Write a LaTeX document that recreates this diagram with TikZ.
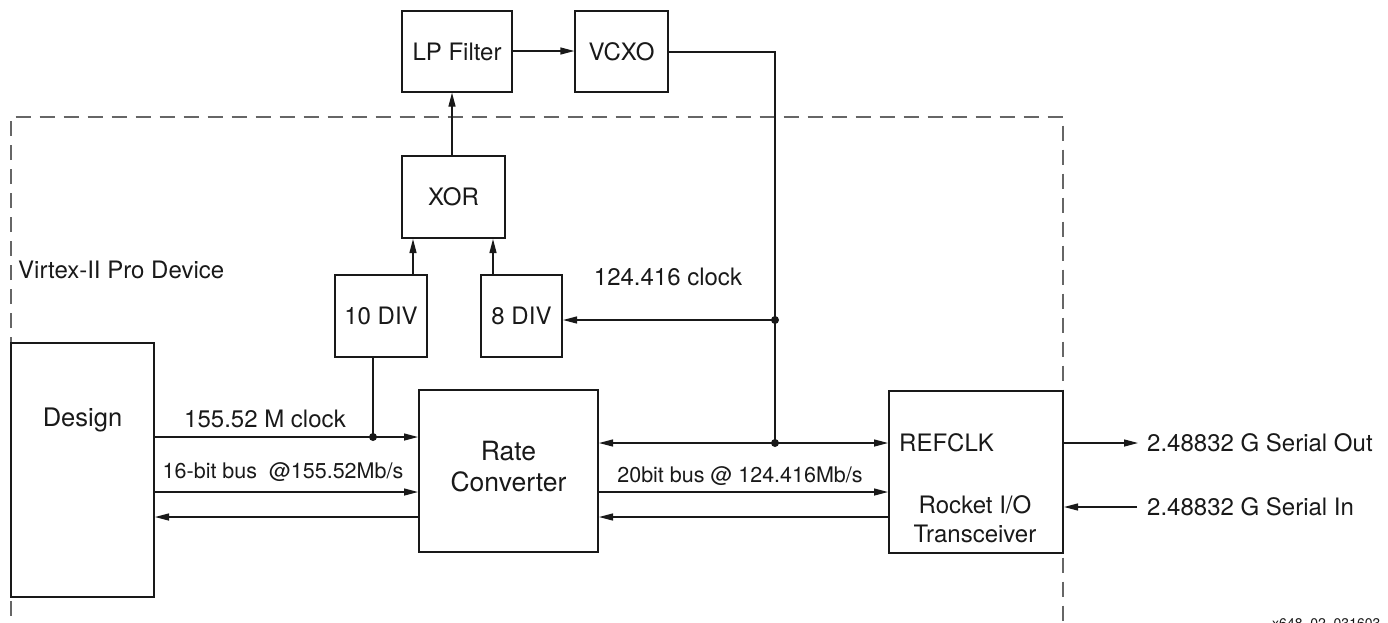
\documentclass[tikz,border=0pt]{standalone}
\usepackage{fontspec}
\setmainfont{TeX Gyre Heros}
\usetikzlibrary{arrows.meta}
\definecolor{ink}{gray}{0.1}
\definecolor{dashc}{gray}{0.4}
\tikzset{
  blk/.style={draw=ink, line width=2pt, minimum width=#1, inner sep=0pt},
  thinblk/.style={draw=ink, line width=1.3pt, inner sep=0pt},
  conn/.style={draw=ink, line width=1.3pt},
  arr/.style={conn, -{Triangle[length=14pt,width=7pt]}},
  dot/.style={circle, fill=ink, inner sep=0pt, minimum size=8pt},
  txt/.style={text=ink, inner sep=0pt, font=\fontsize{24}{29}\selectfont},
  bus/.style={text=ink, inner sep=0pt, font=\fontsize{21.5}{26}\selectfont},
}
\begin{document}
\begin{tikzpicture}[x=1pt, y=-1pt]
\useasboundingbox (0,0) rectangle (1388,622);
\clip (0,0) rectangle (1388,622);
% device boundary
\draw[dashc, line width=2pt, dash pattern=on 15pt off 9pt] (10.5,640) -- (10.5,117) -- (1063,117) -- (1063,640);
\node[txt, anchor=west] (dev) at (18,270) {Virtex-II Pro Device};
% blocks
\node[thinblk, minimum width=110pt, minimum height=81pt] (lp) at (457,51.5) {};
\node[txt] (lpt) at (457,51.5) {LP Filter};
\node[thinblk, minimum width=93pt, minimum height=81pt] (vcxo) at (621.5,51.5) {};
\node[txt] (vcxot) at (621.5,51.5) {VCXO};
\node[blk=103pt, minimum height=82pt] (xor) at (453.5,197) {};
\node[txt] (xort) at (453.5,197) {XOR};
\node[blk=92pt, minimum height=82pt] (d10) at (381,316) {};
\node[txt] (d10t) at (381,316) {10 DIV};
\node[blk=81pt, minimum height=82pt] (d8) at (521.5,316) {};
\node[txt] (d8t) at (521.5,316) {8 DIV};
\node[blk=143pt, minimum height=254pt] (design) at (82.5,470) {};
\node[txt, font=\fontsize{25.5}{30}\selectfont] (designt) at (82.5,420) {Design};
\node[blk=179pt, minimum height=162pt] (rate) at (508.5,471) {};
\node[txt, align=center, font=\fontsize{26.5}{31}\selectfont] (ratet) at (508.5,467) {Rate\\Converter};
\node[blk=174pt, minimum height=162pt] (rocket) at (976,472) {};
\node[txt, anchor=west] (refclk) at (899,443) {REFCLK};
\node[txt, align=center, font=\fontsize{24}{29}\selectfont] (rockt) at (975,519) {Rocket I/O\\Transceiver};
% junctions
\node[dot] (j0) at (373,437) {};
\node[dot] (j1) at (775,320) {};
\node[dot] (j2) at (775,443) {};
\coordinate (vc) at (775,52);
\coordinate (so) at (1138,443);
\coordinate (si) at (1137,507);
% PLL loop
\draw[arr] (xor.north -| 452,0) -- (lp.south -| 452,0);
\draw[arr] (lp.east |- 0,51) -- (vcxo.west |- 0,51);
\draw[conn] (vcxo.east |- 0,52) -- (vc) -- (j2.center);
\draw[arr] (j1.center) -- (d8.east |- j1);
\draw[arr] (d10.north -| 413,0) -- (xor.south -| 413,0);
\draw[arr] (d8.north -| 493,0) -- (xor.south -| 493,0);
\draw[conn] (d10.south -| j0) -- (j0.center);
% design <-> rate converter
\draw[arr] (design.east |- j0) -- (rate.west |- j0);
\draw[arr] (design.east |- 0,492) -- (rate.west |- 0,492);
\draw[arr] (rate.west |- 0,517) -- (design.east |- 0,517);
\node[txt] (clk155) at (265,419) {155.52 M clock};
\node[bus] (bus16) at (283,472) {16-bit bus\ \ @155.52Mb/s};
% rate converter <-> rocket
\draw[arr] (j2.center) -- (rate.east |- j2);
\draw[arr] (j2.center) -- (rocket.west |- j2);
\draw[arr] (rate.east |- 0,492) -- (rocket.west |- 0,492);
\draw[arr] (rocket.west |- 0,517) -- (rate.east |- 0,517);
\node[bus] (bus20) at (740,476) {20bit bus @ 124.416Mb/s};
\node[txt] (clk124) at (668,277) {124.416 clock};
% serial
\draw[arr] (rocket.east |- so) -- (so);
\draw[arr] (si) -- (rocket.east |- si);
\node[txt, anchor=west] (sot) at (1147,443) {2.48832 G Serial Out};
\node[txt, anchor=west] (sit) at (1147,507) {2.48832 G Serial In};
% figure id
\node[text=ink, inner sep=0pt, anchor=north west, font=\fontsize{14}{16}\selectfont] (fid) at (1272,618) {x648\_02\_031603};
\end{tikzpicture}
\end{document}
